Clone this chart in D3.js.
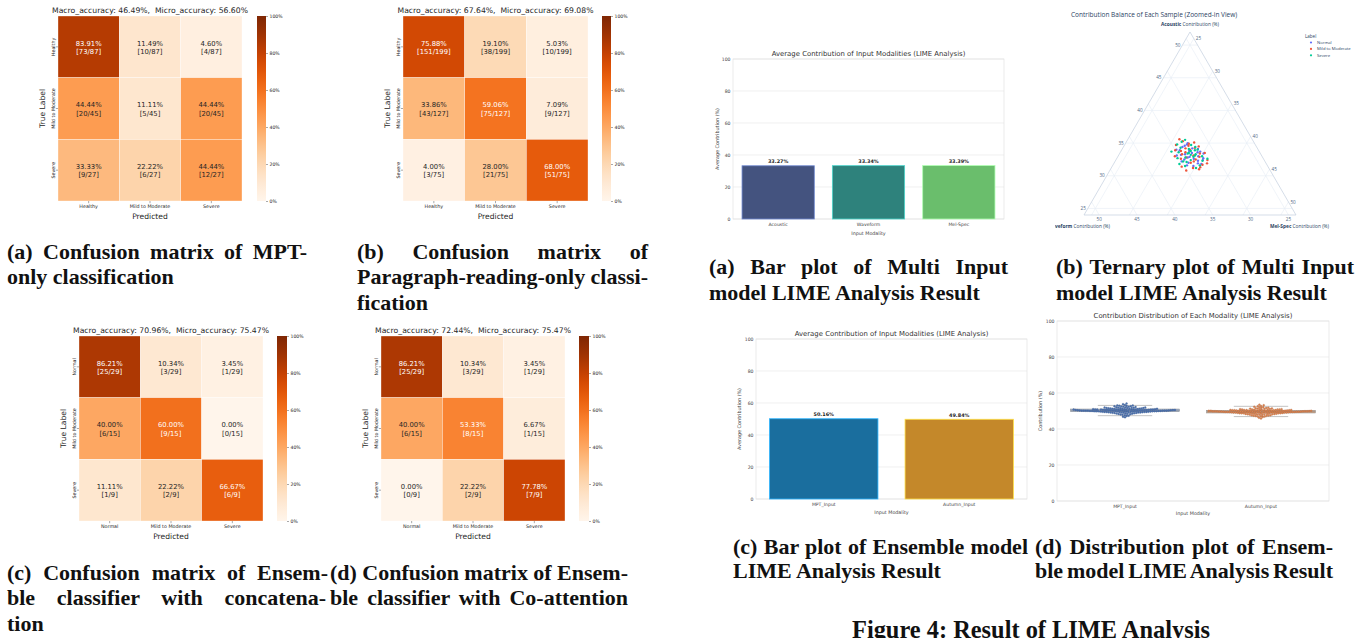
<!DOCTYPE html>
<html>
<head>
<meta charset="utf-8">
<script src="https://cdn.jsdelivr.net/npm/d3@7"></script>
<style>
  body { margin: 0; background: #fff; }
  svg { display: block; }
</style>
</head>
<body>
<svg id="fig" width="1366" height="638"></svg>
<script>
// ---------- data ----------
const mptClasses = ['Healthy', 'Mild to Moderate', 'Severe'];
const ensClasses = ['Normal', 'Mild to Moderate', 'Severe'];
const mptCounts = [[73, 10, 4], [20, 5, 20], [9, 6, 12]];
const paraCounts = [[151, 38, 10], [43, 75, 9], [3, 21, 51]];
const concatCounts = [[25, 3, 1], [6, 9, 0], [1, 2, 6]];
const coattCounts = [[25, 3, 1], [6, 8, 1], [0, 2, 7]];
const macroAcc = ['46.49%', '67.64%', '70.96%', '72.44%'];
const microAcc = ['56.60%', '69.08%', '75.47%', '75.47%'];
const cbTicks = [0, 0.2, 0.4, 0.6, 0.8, 1];

const multiModalities = ['Acoustic', 'Waveform', 'Mel-Spec'];
const multiContrib = [33.27, 33.34, 33.39];
const multiColors = ['#44537f', '#2e827c', '#6abe6c'];
const ensModalities = ['MPT_Input', 'Autumn_Input'];
const ensContrib = [50.16, 49.84];
const ensColors = ['#1a6e9e', '#c4882a'];
const pctTicks = [0, 20, 40, 60, 80, 100];

const ternTicks = [25, 30, 35, 40, 45, 50];
const ternLabels = ['Normal', 'Mild to Moderate', 'Severe'];
const ternColors = ['#636efa', '#ef553b', '#00cc96'];
// [acoustic, waveform, mel-spec] in %
const normalPts = [
  [33.5, 33.0, 33.5], [34.2, 32.6, 33.2], [32.8, 33.9, 33.3], [33.9, 34.4, 31.7], [32.4, 32.1, 35.5],
  [33.1, 35.2, 31.7], [34.6, 33.4, 32.0], [32.0, 34.2, 33.8], [33.7, 31.8, 34.5], [31.9, 33.0, 35.1],
  [34.1, 31.9, 34.0], [33.3, 34.0, 32.7], [32.6, 33.2, 34.2], [35.0, 32.8, 32.2], [31.6, 34.6, 33.8],
  [33.0, 32.4, 34.6], [34.4, 33.8, 31.8], [32.2, 35.0, 32.8], [33.6, 32.2, 34.2], [31.8, 32.6, 35.6],
  [34.0, 34.8, 31.2], [32.9, 33.6, 33.5], [33.4, 31.5, 35.1], [32.5, 34.5, 33.0], [33.8, 33.2, 33.0],
  [31.5, 33.8, 34.7], [34.8, 33.0, 32.2], [32.3, 32.8, 34.9], [33.2, 34.6, 32.2], [32.7, 31.9, 35.4]
];
const mildPts = [
  [34.9, 32.7, 32.4], [35.3, 33.3, 31.4], [33.6, 33.8, 32.6], [32.9, 32.3, 34.8], [31.2, 34.0, 34.8],
  [30.8, 35.1, 34.1], [31.0, 33.3, 35.7], [34.5, 31.6, 33.9], [33.0, 35.5, 31.5], [32.2, 33.4, 34.4],
  [34.0, 33.0, 33.0], [33.4, 32.0, 34.6], [35.6, 33.6, 30.8], [32.6, 34.9, 32.5], [31.7, 32.5, 35.8],
  [33.8, 34.3, 31.9], [34.7, 34.5, 30.8], [32.4, 31.5, 36.1], [33.1, 33.0, 33.9], [31.4, 35.4, 33.2],
  [34.3, 32.2, 33.5], [32.0, 33.9, 34.1], [33.5, 31.3, 35.2], [35.1, 31.9, 33.0], [32.8, 34.1, 33.1],
  [31.9, 31.8, 36.3], [33.9, 35.0, 31.1], [34.2, 33.5, 32.3], [32.5, 33.0, 34.5], [33.3, 34.4, 32.3],
  [31.3, 33.0, 35.7], [34.6, 32.9, 32.5]
];
const severePts = [
  [35.5, 32.9, 31.6], [34.8, 34.3, 30.9], [33.9, 32.4, 33.7], [32.7, 35.3, 32.0], [33.2, 33.3, 33.5],
  [31.8, 35.5, 32.7], [34.1, 33.1, 32.8], [32.3, 32.2, 35.5], [33.6, 34.7, 31.7], [33.0, 31.9, 35.1],
  [34.4, 32.1, 33.5], [32.1, 34.4, 33.5], [33.4, 33.6, 33.0], [31.5, 34.9, 33.6], [34.7, 32.5, 32.8],
  [32.9, 33.1, 34.0], [33.7, 35.6, 30.7], [32.4, 33.7, 33.9], [34.3, 34.1, 31.6], [31.2, 33.6, 35.2],
  [33.1, 32.8, 34.1], [32.6, 31.4, 36.0], [33.8, 33.0, 33.2], [34.0, 32.0, 34.0], [32.8, 34.2, 33.0],
  [31.6, 32.9, 35.5], [33.5, 33.4, 33.1], [35.2, 33.5, 31.3], [32.2, 34.8, 33.0], [33.3, 32.6, 34.1]
];

const mptSwarm = [
  50.2, 49.8, 50.5, 51.3, 49.1, 50.0, 50.9, 48.7, 52.1, 50.4,
  49.6, 50.7, 51.8, 49.9, 50.3, 48.4, 50.1, 51.0, 49.4, 52.6,
  50.6, 49.2, 50.8, 53.1, 50.0, 49.7, 51.5, 48.9, 50.2, 47.9,
  51.2, 50.4, 49.5, 50.9, 52.3, 49.0, 50.6, 51.7, 49.8, 50.3,
  48.2, 50.1, 51.4, 49.3, 53.8, 50.7, 49.9, 50.5, 52.8, 49.6,
  50.0, 51.1, 47.4, 50.8, 49.4, 51.9, 50.2, 48.6, 50.4, 51.0,
  49.7, 52.4, 50.3, 49.1, 50.9, 46.8, 51.6, 50.1, 49.5, 53.4,
  50.6, 48.8, 51.3, 50.0, 49.8, 52.0, 50.5, 49.2, 51.8, 50.2,
  47.7, 50.7, 49.9, 51.2, 50.4, 48.3, 52.7, 49.6, 50.1, 51.5,
  50.8, 49.3, 54.1, 50.3, 49.0, 51.0, 50.6, 48.1, 52.2, 49.7,
  50.0, 51.4, 49.5, 50.9, 47.2, 50.2, 51.7, 49.8, 53.0, 50.5,
  49.4, 50.7, 51.1, 48.5, 50.3, 52.5, 49.9, 50.1, 46.5, 51.3,
  50.6, 49.6, 50.4, 51.9, 49.2, 50.8, 48.9, 52.9, 50.0, 51.6
];
const autumnSwarm = [
  49.8, 50.2, 49.5, 48.7, 50.9, 50.0, 49.1, 51.3, 47.9, 49.6,
  50.4, 49.3, 48.2, 50.1, 49.7, 51.6, 49.9, 49.0, 50.6, 47.4,
  49.4, 50.8, 49.2, 46.9, 50.0, 50.3, 48.5, 51.1, 49.8, 52.1,
  48.8, 49.6, 50.5, 49.1, 47.7, 51.0, 49.4, 48.3, 50.2, 49.7,
  51.8, 49.9, 48.6, 50.7, 46.2, 49.3, 50.1, 49.5, 47.2, 50.4,
  50.0, 48.9, 52.6, 49.2, 50.6, 48.1, 49.8, 51.4, 49.6, 49.0,
  50.3, 47.6, 49.7, 50.9, 49.1, 53.2, 48.4, 49.9, 50.5, 46.6,
  49.4, 51.2, 48.7, 50.0, 50.2, 48.0, 49.5, 50.8, 48.2, 49.8,
  52.3, 49.3, 50.1, 48.8, 49.6, 51.7, 47.3, 50.4, 49.9, 48.5,
  49.2, 50.7, 45.9, 49.7, 51.0, 49.0, 49.4, 51.9, 47.8, 50.3,
  50.0, 48.6, 50.5, 49.1, 52.8, 49.8, 48.3, 50.2, 47.0, 49.5,
  50.6, 49.3, 48.9, 51.5, 49.7, 47.5, 50.1, 49.9, 53.5, 48.7,
  49.4, 50.4, 49.6, 48.1, 50.8, 49.2, 51.1, 47.1, 50.0, 48.4
];

const capTopLeft = ['(a) Confusion matrix of MPT-', 'only classification',
  '(b) Confusion matrix of', 'Paragraph-reading-only classi-', 'fication'];
const capBottomLeft = ['(c) Confusion matrix of Ensem-', 'ble classifier with concatena-', 'tion',
  '(d) Confusion matrix of Ensem-', 'ble classifier with Co-attention'];
const capTopRight = ['(a) Bar plot of Multi Input', 'model LIME Analysis Result',
  '(b) Ternary plot of Multi Input', 'model LIME Analysis Result'];
const capBottomRight = ['(c) Bar plot of Ensemble model', 'LIME Analysis Result',
  '(d) Distribution plot of Ensem-', 'ble model LIME Analysis Result'];
const figCaption = 'Figure 4: Result of LIME Analysis';

// ---------- setup ----------
const svg = d3.select('#fig');
const defs = svg.append('defs');
const MPL = 'DejaVu Sans, sans-serif';
const INK = '#262626';

function lum(c) {
    const rgb = d3.rgb(c);
    const f = (v) => {
        v /= 255;
        return v <= 0.03928 ? v / 12.92 : Math.pow((v + 0.055) / 1.055, 2.4);
    };
    return 0.2126 * f(rgb.r) + 0.7152 * f(rgb.g) + 0.0722 * f(rgb.b);
}

// ---------- confusion matrices ----------
const color = d3.scaleSequential(d3.interpolateOranges).domain([0, 1]);

function confusion(k, counts, classes, L) {
    const g = svg.append('g').style('font-family', MPL);
    const x = d3.scaleBand().domain(classes).range([L.left, L.right]);
    const y = d3.scaleBand().domain(classes).range([L.top, L.bottom]);

    const cells = [];
    counts.forEach((row, i) => {
        const tot = d3.sum(row);
        row.forEach((c, j) => cells.push({ r: classes[i], col: classes[j], c, tot, p: c / tot }));
    });

    g.selectAll('rect.cell').data(cells).join('rect')
        .attr('x', (d) => x(d.col)).attr('y', (d) => y(d.r))
        .attr('width', x.bandwidth()).attr('height', y.bandwidth())
        .attr('fill', (d) => color(d.p))
        .attr('stroke', '#fff').attr('stroke-width', 0.35);

    const ann = g.selectAll('g.ann').data(cells).join('g')
        .attr('transform', (d) => `translate(${x(d.col) + x.bandwidth() / 2},${y(d.r) + y.bandwidth() / 2})`)
        .attr('fill', (d) => lum(color(d.p)) > 0.408 ? INK : '#fff')
        .attr('font-size', 6.8).attr('text-anchor', 'middle');
    ann.append('text').attr('y', -1.3).text((d) => (d.p * 100).toFixed(2) + '%');
    ann.append('text').attr('y', 7.2).text((d) => `[${d.c}/${d.tot}]`);

    // axes
    const xa = g.append('g').attr('transform', `translate(0,${L.bottom})`)
        .call(d3.axisBottom(x).tickSize(2.2).tickPadding(1.5));
    const ya = g.append('g').attr('transform', `translate(${L.left},0)`)
        .call(d3.axisLeft(y).tickSize(2.2));
    [xa, ya].forEach((a) => {
        a.select('.domain').remove();
        a.selectAll('line').attr('stroke', INK).attr('stroke-width', 0.4);
        a.selectAll('text').attr('fill', INK).style('font-size', '4.8px').style('font-family', MPL);
    });
    ya.selectAll('.tick text')
        .attr('transform', 'rotate(-90)')
        .attr('x', 0).attr('y', -3.4).attr('dy', 0)
        .attr('text-anchor', 'middle');

    g.append('text').attr('x', (L.left + L.right) / 2).attr('y', L.bottom + 17.5)
        .attr('text-anchor', 'middle').attr('font-size', 7.6).attr('fill', INK).text('Predicted');
    g.append('text')
        .attr('transform', `translate(${L.left - 13.5},${(L.top + L.bottom) / 2}) rotate(-90)`)
        .attr('text-anchor', 'middle').attr('font-size', 7.6).attr('fill', INK).text('True Label');
    g.append('text').attr('x', (L.left + L.right) / 2).attr('y', L.top - 3)
        .attr('text-anchor', 'middle').attr('font-size', 7.7).attr('fill', INK)
        .style('white-space', 'pre')
        .text(`Macro_accuracy: ${macroAcc[k]},  Micro_accuracy: ${microAcc[k]}`);

    // colorbar
    const gid = 'cb' + k;
    const grad = defs.append('linearGradient').attr('id', gid)
        .attr('x1', 0).attr('y1', 1).attr('x2', 0).attr('y2', 0);
    d3.range(0, 1.0001, 0.05).forEach((t) => {
        grad.append('stop').attr('offset', t).attr('stop-color', color(t));
    });
    g.append('rect').attr('x', L.cbLeft).attr('y', L.top)
        .attr('width', L.cbW).attr('height', L.bottom - L.top)
        .attr('fill', `url(#${gid})`);
    const cb = d3.scaleLinear().domain([0, 1]).range([L.bottom, L.top]);
    const ca = g.append('g').attr('transform', `translate(${L.cbLeft + L.cbW},0)`)
        .call(d3.axisRight(cb).tickValues(cbTicks).tickFormat(d3.format('.0%')).tickSize(2).tickPadding(1.5));
    ca.select('.domain').remove();
    ca.selectAll('line').attr('stroke', INK).attr('stroke-width', 0.4);
    ca.selectAll('text').attr('fill', INK).style('font-size', '4.6px').style('font-family', MPL);
}

confusion(0, mptCounts, mptClasses, { left: 58, right: 242, top: 16, bottom: 201, cbLeft: 257, cbW: 9 });
confusion(1, paraCounts, mptClasses, { left: 403, right: 588, top: 16, bottom: 201, cbLeft: 602, cbW: 9 });
confusion(2, concatCounts, ensClasses, { left: 79, right: 263, top: 336, bottom: 521, cbLeft: 277, cbW: 10 });
confusion(3, coattCounts, ensClasses, { left: 381, right: 565, top: 336, bottom: 521, cbLeft: 579, cbW: 10 });

// ---------- seaborn-ish panel frame ----------
function sbFrame(g, L, title, yTitle, yTitleX) {
    const y = d3.scaleLinear().domain([0, 100]).range([L.bottom, L.top]);
    g.selectAll('line.grid').data(pctTicks).join('line')
        .attr('x1', L.left).attr('x2', L.right)
        .attr('y1', (d) => y(d)).attr('y2', (d) => y(d))
        .attr('stroke', '#e9e9e9').attr('stroke-width', 0.7);
    g.append('rect').attr('x', L.left).attr('y', L.top)
        .attr('width', L.right - L.left).attr('height', L.bottom - L.top)
        .attr('fill', 'none').attr('stroke', '#e2e2e2').attr('stroke-width', 0.7);
    const ya = g.append('g').attr('transform', `translate(${L.left},0)`)
        .call(d3.axisLeft(y).tickValues(pctTicks).tickSize(0).tickPadding(2.5));
    ya.select('.domain').remove();
    ya.selectAll('text').attr('fill', '#444').style('font-size', '4.6px').style('font-family', MPL);
    g.append('text').attr('x', (L.left + L.right) / 2).attr('y', L.top - 3)
        .attr('text-anchor', 'middle').attr('font-size', 6.9).attr('fill', '#333').text(title);
    g.append('text')
        .attr('transform', `translate(${yTitleX},${(L.top + L.bottom) / 2}) rotate(-90)`)
        .attr('text-anchor', 'middle').attr('font-size', 4.9).attr('fill', '#444').text(yTitle);
    g.append('text').attr('x', (L.left + L.right) / 2).attr('y', L.bottom + L.labelOff)
        .attr('text-anchor', 'middle').attr('font-size', 4.8).attr('fill', '#444').text('Input Modality');
    return y;
}

function barChart(cats, vals, colors, L) {
    const g = svg.append('g').style('font-family', MPL);
    const y = sbFrame(g, L, 'Average Contribution of Input Modalities (LIME Analysis)',
        'Average Contribution (%)', L.yTitleX);
    const x = d3.scaleBand().domain(cats).range([L.left, L.right]).paddingInner(0.2).paddingOuter(0.1);
    const data = cats.map((c, i) => ({ c, v: vals[i], col: colors[i] }));
    g.selectAll('rect.bar').data(data).join('rect')
        .attr('x', (d) => x(d.c)).attr('width', x.bandwidth())
        .attr('y', (d) => y(d.v)).attr('height', (d) => y(0) - y(d.v))
        .attr('fill', (d) => d.col)
        .attr('stroke', (d) => d3.color(d.col).brighter(1.4)).attr('stroke-width', 0.8);
    g.selectAll('text.val').data(data).join('text')
        .attr('x', (d) => x(d.c) + x.bandwidth() / 2).attr('y', (d) => y(d.v) - 2.6)
        .attr('text-anchor', 'middle').attr('font-size', 4.9).attr('font-weight', 'bold')
        .attr('fill', '#222').text((d) => d.v.toFixed(2) + '%');
    const xa = g.append('g').attr('transform', `translate(0,${L.bottom})`)
        .call(d3.axisBottom(x).tickSize(0).tickPadding(4.2));
    xa.select('.domain').remove();
    xa.selectAll('text').attr('fill', '#444').style('font-size', '4.6px').style('font-family', MPL);
}

barChart(multiModalities, multiContrib, multiColors,
    { left: 733, right: 1004, top: 59, bottom: 219, yTitleX: 718.5, labelOff: 15.5 });
barChart(ensModalities, ensContrib, ensColors,
    { left: 756, right: 1027, top: 339, bottom: 499, yTitleX: 740.5, labelOff: 14.5 });

// ---------- distribution plot ----------
function swarm(values, cx, yScale, dd) {
    const pts = values.map((v) => ({ v, y: yScale(v) })).sort((a, b) => a.v - b.v);
    const placed = [];
    for (const p of pts) {
        const near = placed.filter((q) => Math.abs(q.y - p.y) < dd);
        const cands = [cx];
        for (const q of near) {
            const dx = Math.sqrt(dd * dd - (q.y - p.y) ** 2);
            cands.push(q.x - dx, q.x + dx);
        }
        cands.sort((a, b) => Math.abs(a - cx) - Math.abs(b - cx));
        for (const c of cands) {
            if (near.every((q) => (q.x - c) ** 2 + (q.y - p.y) ** 2 >= dd * dd - 1e-6)) { p.x = c; break; }
        }
        placed.push(p);
    }
    return placed;
}

(function distPlot() {
    const L = { left: 1057, right: 1329, top: 321, bottom: 501, labelOff: 13.5 };
    const g = svg.append('g').style('font-family', MPL);
    const y = sbFrame(g, L, 'Contribution Distribution of Each Modality (LIME Analysis)',
        'Contribution (%)', 1042);
    const x = d3.scaleBand().domain(ensModalities).range([L.left, L.right]);
    const series = [
        { name: ensModalities[0], vals: mptSwarm, box: '#9fb2cf', dot: '#4c72b0', edge: '#2e4d82' },
        { name: ensModalities[1], vals: autumnSwarm, box: '#cfa486', dot: '#dd8452', edge: '#a45a2c' },
    ];
    series.forEach((s) => {
        const cx = x(s.name) + x.bandwidth() / 2;
        const bw = x.bandwidth() * 0.8;
        const sorted = s.vals.slice().sort(d3.ascending);
        const q1 = d3.quantile(sorted, 0.25), q3 = d3.quantile(sorted, 0.75), med = d3.quantile(sorted, 0.5);
        const iqr = q3 - q1;
        const lo = d3.min(sorted.filter((v) => v >= q1 - 1.5 * iqr));
        const hi = d3.max(sorted.filter((v) => v <= q3 + 1.5 * iqr));
        g.append('line').attr('x1', cx).attr('x2', cx).attr('y1', y(hi)).attr('y2', y(lo))
            .attr('stroke', '#9a9a9a').attr('stroke-width', 0.6);
        [lo, hi].forEach((v) => {
            g.append('line').attr('x1', cx - bw / 4).attr('x2', cx + bw / 4).attr('y1', y(v)).attr('y2', y(v))
                .attr('stroke', '#9a9a9a').attr('stroke-width', 0.6);
        });
        g.append('rect').attr('x', cx - bw / 2).attr('width', bw)
            .attr('y', y(q3)).attr('height', y(q1) - y(q3))
            .attr('fill', s.box).attr('stroke', '#8a8a8a').attr('stroke-width', 0.5);
        g.append('line').attr('x1', cx - bw / 2).attr('x2', cx + bw / 2).attr('y1', y(med)).attr('y2', y(med))
            .attr('stroke', '#8a8a8a').attr('stroke-width', 0.5);
        const pts = swarm(s.vals, cx, y, 2.05);
        g.append('g').selectAll('circle').data(pts).join('circle')
            .attr('cx', (d) => d.x).attr('cy', (d) => d.y).attr('r', 1.0)
            .attr('fill', s.dot).attr('stroke', s.edge).attr('stroke-width', 0.25);
    });
    const xa = g.append('g').attr('transform', `translate(0,${L.bottom})`)
        .call(d3.axisBottom(x).tickSize(0).tickPadding(3.6));
    xa.select('.domain').remove();
    xa.selectAll('text').attr('fill', '#444').style('font-size', '4.6px').style('font-family', MPL);
})();

// ---------- ternary plot ----------
(function ternary() {
    const PL = 'Open Sans, sans-serif';
    const T = [1190, 32], Lf = [1084, 215], R = [1296, 215];
    const frac = d3.scaleLinear().domain([24, 52]).range([0, 1]);
    const proj = (a, b, c) => {
        let fa = frac(a), fb = frac(b), fc = frac(c);
        const s = fa + fb + fc;
        fa /= s; fb /= s; fc /= s;
        return [fa * T[0] + fb * Lf[0] + fc * R[0], fa * T[1] + fb * Lf[1] + fc * R[1]];
    };
    const g = svg.append('g').style('font-family', PL);
    const grid = '#e6ecf5';
    ternTicks.forEach((t) => {
        const o = 100 - t - 24;
        [[proj(t, o, 24), proj(t, 24, o)], [proj(o, t, 24), proj(24, t, o)], [proj(o, 24, t), proj(24, o, t)]]
            .forEach(([p, q]) => {
                g.append('line').attr('x1', p[0]).attr('y1', p[1]).attr('x2', q[0]).attr('y2', q[1])
                    .attr('stroke', grid).attr('stroke-width', 0.6);
            });
    });
    g.append('path').attr('d', `M${T}L${Lf}L${R}Z`)
        .attr('fill', 'none').attr('stroke', '#c3cede').attr('stroke-width', 0.7);

    const tf = 4.6, tc = '#506784';
    ternTicks.forEach((t) => {
        const o = 100 - t - 24;
        const pa = proj(t, o, 24);
        g.append('text').attr('x', pa[0] - 2).attr('y', pa[1] + 1.6).attr('text-anchor', 'end')
            .attr('font-size', tf).attr('fill', tc).text(t);
        const pb = proj(24, t, o);
        g.append('text').attr('x', pb[0]).attr('y', pb[1] + 5.6).attr('text-anchor', 'middle')
            .attr('font-size', tf).attr('fill', tc).text(t);
        const pc = proj(o, 24, t);
        g.append('text').attr('x', pc[0] + 2).attr('y', pc[1] + 1.6).attr('text-anchor', 'start')
            .attr('font-size', tf).attr('fill', tc).text(t);
    });

    // points
    [normalPts, mildPts, severePts].forEach((pts, i) => {
        g.append('g').selectAll('circle').data(pts).join('circle')
            .attr('cx', (d) => proj(d[0], d[1], d[2])[0])
            .attr('cy', (d) => proj(d[0], d[1], d[2])[1])
            .attr('r', 1.2).attr('fill', ternColors[i]);
    });

    // axis titles
    const at = g.append('text').attr('x', T[0]).attr('y', 26).attr('text-anchor', 'middle')
        .attr('font-size', 4.8).attr('fill', '#2a3f5f');
    at.append('tspan').attr('font-weight', 'bold').text('Acoustic');
    at.append('tspan').text(' Contribution (%)');
    defs.append('clipPath').attr('id', 'ternClip')
        .append('rect').attr('x', 1055).attr('y', 0).attr('width', 311).attr('height', 240);
    const bt = g.append('text').attr('x', 1110).attr('y', 227.5).attr('text-anchor', 'end')
        .attr('font-size', 4.8).attr('fill', '#2a3f5f').attr('clip-path', 'url(#ternClip)');
    bt.append('tspan').attr('font-weight', 'bold').text('Waveform');
    bt.append('tspan').text(' Contribution (%)');
    const ct = g.append('text').attr('x', 1270).attr('y', 227.5).attr('text-anchor', 'start')
        .attr('font-size', 4.8).attr('fill', '#2a3f5f');
    ct.append('tspan').attr('font-weight', 'bold').text('Mel-Spec');
    ct.append('tspan').text(' Contribution (%)');

    g.append('text').attr('x', 1071).attr('y', 17).attr('font-size', 6.5).attr('fill', '#2a3f5f')
        .text('Contribution Balance of Each Sample (Zoomed-in View)');

    // legend
    g.append('text').attr('x', 1305).attr('y', 37.5).attr('font-size', 4.5).attr('fill', '#2a3f5f').text('Label');
    ternLabels.forEach((lab, i) => {
        const yy = 42.5 + i * 6.4;
        g.append('circle').attr('cx', 1311).attr('cy', yy).attr('r', 1.1).attr('fill', ternColors[i]);
        g.append('text').attr('x', 1317).attr('y', yy + 1.5).attr('font-size', 4.2).attr('fill', '#2a3f5f').text(lab);
    });
})();

// ---------- captions ----------
const SERIF = 'Liberation Serif, Times New Roman, serif';
function capLine(text, x, y, target) {
    const t = svg.append('text').attr('x', x).attr('y', y)
        .attr('font-family', SERIF).attr('font-weight', 'bold').attr('font-size', 22)
        .attr('fill', '#111').text(text);
    if (target) {
        const nat = t.node().getComputedTextLength();
        const spaces = (text.match(/ /g) || []).length;
        if (spaces) t.attr('word-spacing', (target - nat) / spaces);
    }
}
capLine(capTopLeft[0], 7, 259, 300);
capLine(capTopLeft[1], 7, 284);
capLine(capTopLeft[2], 357, 259, 291);
capLine(capTopLeft[3], 357, 284, 291);
capLine(capTopLeft[4], 357, 310);

capLine(capBottomLeft[0], 7, 580, 321);
capLine(capBottomLeft[1], 7, 605, 319);
capLine(capBottomLeft[2], 7, 631);
capLine(capBottomLeft[3], 330, 580, 298);
capLine(capBottomLeft[4], 330, 605, 298);

capLine(capTopRight[0], 709, 274, 299);
capLine(capTopRight[1], 709, 300);
capLine(capTopRight[2], 1056, 274, 298);
capLine(capTopRight[3], 1056, 300);

capLine(capBottomRight[0], 733, 554, 295);
capLine(capBottomRight[1], 733, 578);
capLine(capBottomRight[2], 1035, 554, 298);
capLine(capBottomRight[3], 1035, 578, 298);

svg.append('text').attr('x', 1031).attr('y', 638).attr('text-anchor', 'middle')
    .attr('font-family', SERIF).attr('font-weight', 'bold').attr('font-size', 24.4)
    .attr('fill', '#111').text(figCaption);
</script>
</body>
</html>
